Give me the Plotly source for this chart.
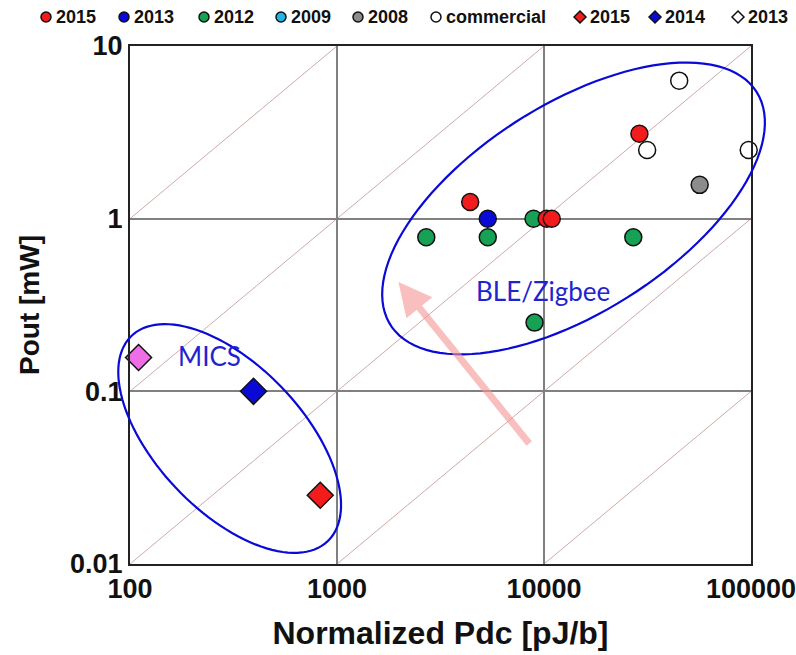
import numpy as np
import plotly.graph_objects as go

# ---- data: normalized DC power [pJ/b] vs output power [mW] ----
circ_2015_x = [4400, 10300, 10900, 28900]
circ_2015_y = [1.25, 1.0, 1.0, 3.1]
circ_2013_x = [5350]
circ_2013_y = [1.0]
circ_2012_x = [2700, 5350, 8900, 27000, 9000]
circ_2012_y = [0.78, 0.78, 1.0, 0.78, 0.25]
circ_2008_x = [56500]
circ_2008_y = [1.57]
circ_comm_x = [45000, 31500, 97500]
circ_comm_y = [6.3, 2.5, 2.5]

dia_2015_x = [830]
dia_2015_y = [0.025]
dia_2014_x = [395]
dia_2014_y = [0.1]
dia_2013_x = [110]
dia_2013_y = [0.157]

x_ticks = [100, 1000, 10000, 100000]
x_tick_text = ["100", "1000", "10000", "100000"]
y_ticks = [0.01, 0.1, 1, 10]
y_tick_text = ["0.01", "0.1", "1", "10"]

# constant-efficiency guide lines: log10(Pout) - log10(Pdc) = c
guide_offsets = [-7, -6, -5, -4, -3, -2, -1]

# ---- layout geometry ----
W, H = 796, 655
M_L, M_R, M_T, M_B = 130, 45, 46, 91
PW, PH = W - M_L - M_R, H - M_T - M_B
X_RANGE = (2, 5)      # log10 range of x axis
Y_RANGE = (-2, 1)     # log10 range of y axis

RED = "#f21c1c"
BLUE = "#0a0ad8"
GREEN = "#16a154"
CYAN = "#22b4e6"
GREY = "#8c8c8c"
WHITE = "#ffffff"
PINK = "#ee6ee8"
OUTLINE = "#111111"
ANNOT_BLUE = "#1f24d0"
FONT = "Liberation Sans, Arial"

fig = go.Figure()


def add_points(xs, ys, color, symbol, size):
    fig.add_trace(go.Scatter(
        x=xs, y=ys, mode="markers", showlegend=False, cliponaxis=False,
        marker=dict(color=color, symbol=symbol, size=size,
                    line=dict(color=OUTLINE, width=1.5)),
    ))


add_points(circ_2012_x, circ_2012_y, GREEN, "circle", 17)
add_points(circ_2013_x, circ_2013_y, BLUE, "circle", 17)
add_points(circ_2015_x, circ_2015_y, RED, "circle", 17)
add_points(circ_2008_x, circ_2008_y, GREY, "circle", 17)
add_points(circ_comm_x, circ_comm_y, WHITE, "circle", 17)
add_points(dia_2015_x, dia_2015_y, RED, "diamond", 20)
add_points(dia_2014_x, dia_2014_y, BLUE, "diamond", 20)
add_points(dia_2013_x, dia_2013_y, PINK, "diamond", 20)


def px_to_paper(px, py):
    return (px - M_L) / PW, 1 - (py - M_T) / PH


# ---- key row along the top edge ----
legend_labels = ["2015", "2013", "2012", "2009", "2008", "commercial", "2015", "2014", "2013"]
legend_colors = [RED, BLUE, GREEN, CYAN, GREY, WHITE, RED, BLUE, WHITE]
legend_symbols = ["circle"] * 6 + ["diamond"] * 3
legend_marker_px = [46, 124, 204, 281, 358, 436, 580, 655, 738]
LEGEND_Y = 17
SYM_R = 5

for label, color, symbol, mx in zip(legend_labels, legend_colors, legend_symbols, legend_marker_px):
    cx, cy = px_to_paper(mx, LEGEND_Y)
    rx, ry = SYM_R / PW, SYM_R / PH
    if symbol == "circle":
        fig.add_shape(type="circle", xref="paper", yref="paper",
                      x0=cx - rx, x1=cx + rx, y0=cy - ry, y1=cy + ry,
                      fillcolor=color, line=dict(color=OUTLINE, width=1.5))
    else:
        r2x, r2y = 1.2 * rx, 1.2 * ry
        fig.add_shape(type="path", xref="paper", yref="paper",
                      path=(f"M {cx - r2x},{cy} L {cx},{cy + r2y} "
                            f"L {cx + r2x},{cy} L {cx},{cy - r2y} Z"),
                      fillcolor=color, line=dict(color=OUTLINE, width=1.5))
    tx, _ = px_to_paper(mx + 8, LEGEND_Y)
    fig.add_annotation(x=tx, y=cy, xref="paper", yref="paper",
                       xanchor="left", yanchor="middle", showarrow=False,
                       text=label,
                       font=dict(family=FONT, size=18, color="#111111", weight="bold"))

# constant-efficiency diagonals
for c in guide_offsets:
    fig.add_shape(type="line", xref="x", yref="y", layer="below",
                  x0=10 ** X_RANGE[0], y0=10 ** (X_RANGE[0] + c),
                  x1=10 ** X_RANGE[1], y1=10 ** (X_RANGE[1] + c),
                  line=dict(color="rgba(190,140,140,0.75)", width=1))


def ellipse_path(cx, cy, a, b, theta_deg, n=120):
    """Ellipse centred on data point (cx, cy); semi-axes a, b in pixels,
    rotated by theta (screen degrees, positive = clockwise)."""
    px0 = (np.log10(cx) - X_RANGE[0]) / (X_RANGE[1] - X_RANGE[0])
    py0 = (np.log10(cy) - Y_RANGE[0]) / (Y_RANGE[1] - Y_RANGE[0])
    th = np.radians(theta_deg)
    t = np.linspace(0, 2 * np.pi, n)
    dx = a * np.cos(th) * np.cos(t) - b * np.sin(th) * np.sin(t)
    dy = a * np.sin(th) * np.cos(t) + b * np.cos(th) * np.sin(t)
    px = px0 + dx / PW
    py = py0 - dy / PH
    pts = [f"{x:.5f},{y:.5f}" for x, y in zip(px, py)]
    return "M " + " L ".join(pts) + " Z"


fig.add_shape(type="path", xref="paper", yref="paper",
              path=ellipse_path(303, 0.0533, 142, 73, 46.3),
              line=dict(color=BLUE, width=2.2))
fig.add_shape(type="path", xref="paper", yref="paper",
              path=ellipse_path(13890, 1.146, 217, 104, -32.5),
              line=dict(color=BLUE, width=2.2))

# arrow pointing towards lower power consumption / higher output
fig.add_annotation(x=np.log10(1980), y=np.log10(0.43), xref="x", yref="y",
                   ax=132, ay=163, axref="pixel", ayref="pixel",
                   text="", showarrow=True, arrowhead=2, arrowsize=0.95,
                   arrowwidth=7, arrowcolor="rgba(246,150,150,0.6)", standoff=0)

fig.add_annotation(x=np.log10(9900), y=-0.419, xref="x", yref="y",
                   text="BLE/Zigbee", showarrow=False,
                   font=dict(family="Lato", size=26, color=ANNOT_BLUE))
fig.add_annotation(x=2.382, y=-0.795, xref="x", yref="y",
                   text="MICS", showarrow=False,
                   font=dict(family="Lato", size=26, color=ANNOT_BLUE))

axis_common = dict(
    type="log", showgrid=True, gridcolor="#808080", gridwidth=1.5,
    showline=True, linecolor="#222222", linewidth=2, mirror=True,
    ticks="", zeroline=False, automargin=False, ticklabeloverflow="allow",
    tickfont=dict(family=FONT, size=27, color="#111111", weight="bold"),
)

fig.update_layout(
    width=W, height=H,
    margin=dict(l=M_L, r=M_R, t=M_T, b=M_B),
    paper_bgcolor="white", plot_bgcolor="white",
    showlegend=False,
    xaxis=dict(axis_common, range=list(X_RANGE),
               tickvals=x_ticks, ticktext=x_tick_text,
               title=dict(text="Normalized Pdc [pJ/b]", standoff=18,
                          font=dict(family=FONT, size=32, color="#111111", weight="bold"))),
    yaxis=dict(axis_common, range=list(Y_RANGE),
               tickvals=y_ticks, ticktext=y_tick_text,
               title=dict(text="Pout [mW]", standoff=22,
                          font=dict(family=FONT, size=28, color="#111111", weight="bold"))),
)

fig.write_html("out.html")
